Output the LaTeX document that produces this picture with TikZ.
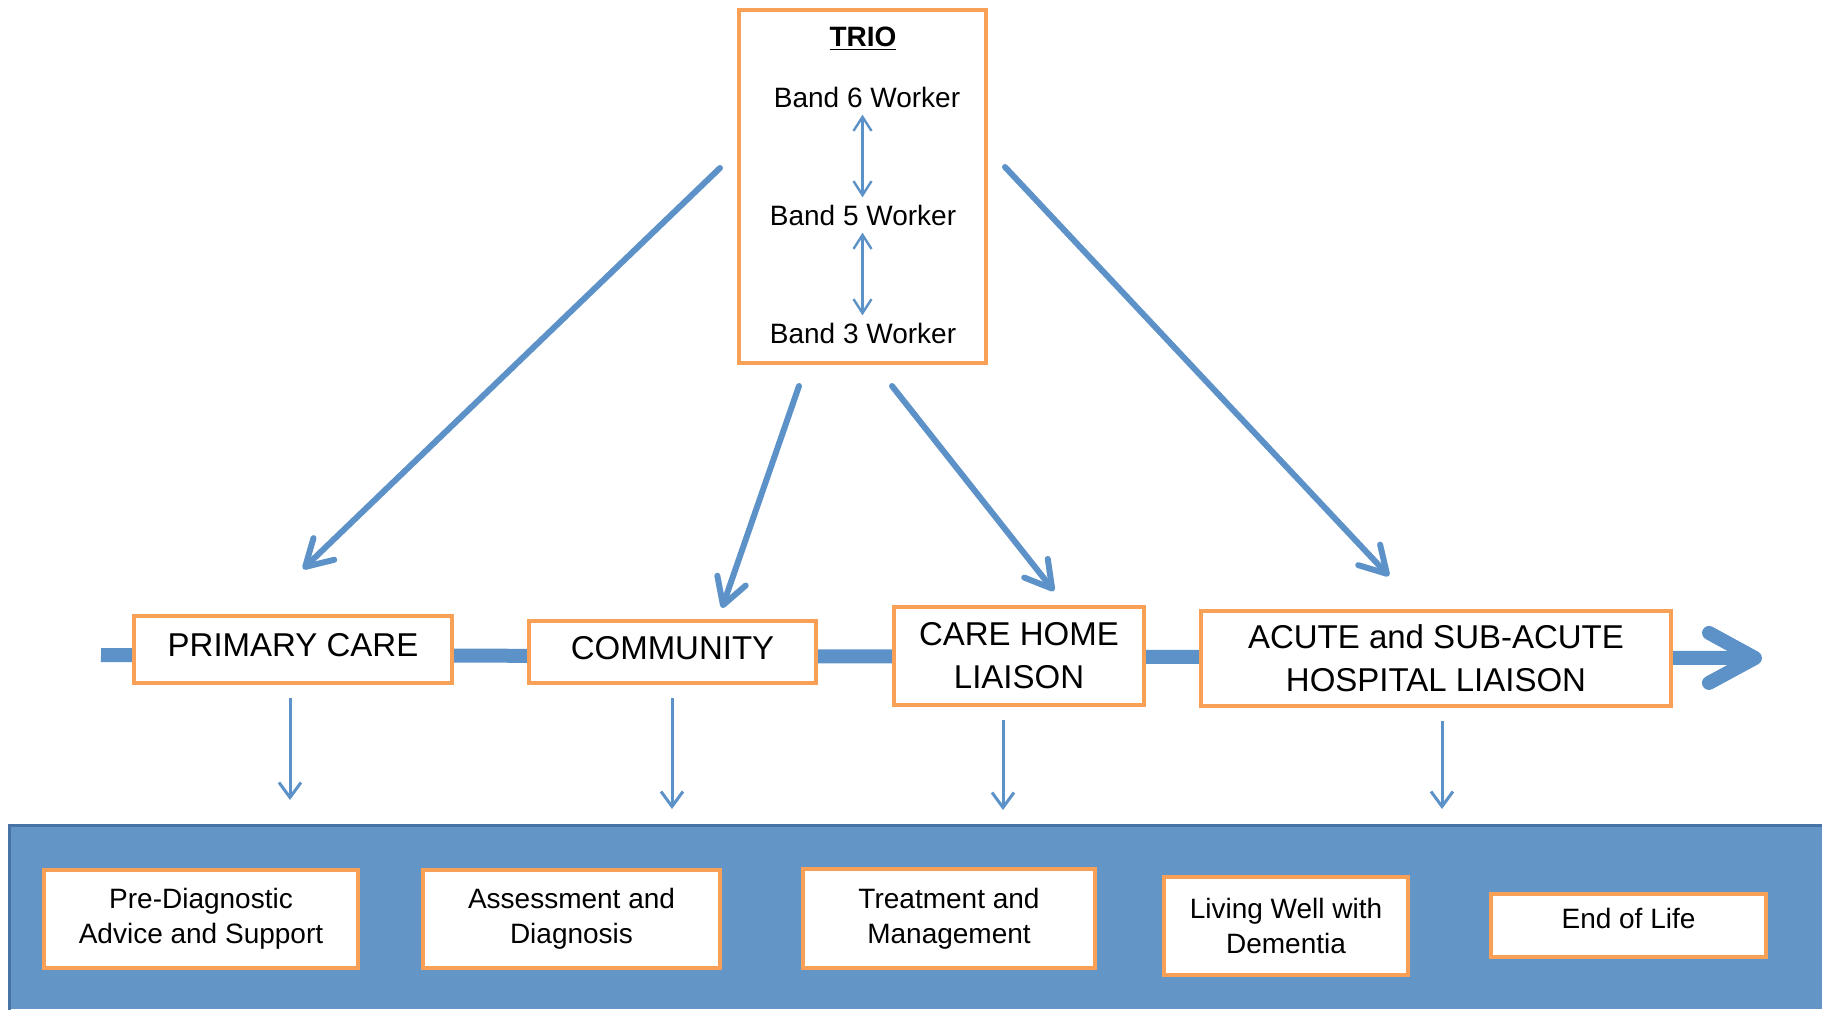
\documentclass[tikz,border=0pt]{standalone}
\usepackage{fontspec}
\setmainfont{Liberation Sans}
\usetikzlibrary{arrows.meta}
\definecolor{ablue}{RGB}{93,146,200}
\definecolor{bandblue}{RGB}{99,150,198}
\definecolor{banddark}{RGB}{72,115,165}
\definecolor{borange}{RGB}{248,160,85}
\begin{document}
\begin{tikzpicture}[x=0.5pt,y=-0.5pt,
  box/.style={draw=borange, line width=2pt, fill=white, align=center, inner sep=0pt, font=\fontsize{16.5}{21.5}\selectfont},
  sbox/.style={draw=borange, line width=2pt, fill=white, align=center, inner sep=0pt, font=\fontsize{14}{17.5}\selectfont},
  bigarr/.style={draw=ablue, line width=3pt, line cap=round, -{Straight Barb[length=13pt,width=15pt,round]}},
  downarr/.style={draw=ablue, line width=1.5pt, shorten <=6.5pt, -{Straight Barb[length=7.5pt,width=11pt]}},
  dblarr/.style={draw=ablue, line width=1.2pt, {Straight Barb[length=7pt,width=9pt]}-{Straight Barb[length=7pt,width=9pt]}},
  mainbar/.style={draw=ablue, line width=7pt, -{Straight Barb[length=23pt,width=25pt,round]}},
  lbl/.style={inner sep=3.5pt, font=\fontsize{14}{17}\selectfont}
]
\useasboundingbox (0,0) rectangle (1822,1009);

% bottom band
\node[fill=bandblue, inner sep=0pt, minimum width=906.5pt, minimum height=92pt, anchor=north west] (band) at (9,825) {};
\draw[banddark, line width=1.5pt] (band.south west) -- (band.north west) -- (band.north east);

% main timeline bar
\coordinate (bs) at (101,655);
\coordinate (be) at (1762,658);
\draw[mainbar] (bs) -- (be);

% TRIO box
\node[draw=borange, line width=2pt, minimum width=123.5pt, minimum height=176.5pt, inner sep=0pt] (trio) at (862.5,186.5) {};
\node[inner sep=0pt, font=\fontsize{14}{17}\selectfont\bfseries] (title) at (863,39) {\underline{TRIO}};
\node[lbl] (b6) at (867,97) {Band 6 Worker};
\node[lbl] (b5) at (863,215) {Band 5 Worker};
\node[lbl] (b3) at (863,333) {Band 3 Worker};
\draw[dblarr] (b6.south -| trio.center) -- (b5.north -| trio.center);
\draw[dblarr] (b5.south -| trio.center) -- (b3.north -| trio.center);

% service boxes
\node[box, minimum width=159pt, minimum height=33.5pt, text depth=4.5pt] (pc) at (293,649.5) {PRIMARY CARE};
\node[box, minimum width=143.5pt, minimum height=31pt, text depth=4pt] (com) at (672.5,652) {COMMUNITY};
\node[box, minimum width=125pt, minimum height=49pt] (chl) at (1019,656) {CARE HOME\\LIAISON};
\node[box, minimum width=235pt, minimum height=47.5pt] (acu) at (1436,658.5) {ACUTE and SUB-ACUTE\\HOSPITAL LIAISON};

% big arrows from TRIO
\coordinate (a1s) at (720,168);  \coordinate (a1e) at (303,569);
\coordinate (a2s) at (799,386);  \coordinate (a2e) at (722,608);
\coordinate (a3s) at (892,386);  \coordinate (a3e) at (1054,591);
\coordinate (a4s) at (1005,167); \coordinate (a4e) at (1389,576);
\draw[bigarr] (a1s) -- (a1e);
\draw[bigarr] (a2s) -- (a2e);
\draw[bigarr] (a3s) -- (a3e);
\draw[bigarr] (a4s) -- (a4e);

% down arrows
\coordinate (d1e) at (290,800);
\coordinate (d2e) at (672,809);
\coordinate (d3e) at (1003,810);
\coordinate (d4e) at (1442,809);
\draw[downarr] (pc.south -| d1e) -- (d1e);
\draw[downarr] (com.south -| d2e) -- (d2e);
\draw[downarr] (chl.south -| d3e) -- (d3e);
\draw[downarr] (acu.south -| d4e) -- (d4e);

% stage boxes
\node[sbox, minimum width=157pt, minimum height=49pt] (pre) at (201,919) {Pre-Diagnostic\\Advice and Support};
\node[sbox, minimum width=148.5pt, minimum height=49pt] (ass) at (571.5,919) {Assessment and\\Diagnosis};
\node[sbox, minimum width=146pt, minimum height=49.5pt] (tre) at (949,918.5) {Treatment and\\Management};
\node[sbox, minimum width=122pt, minimum height=49pt] (liv) at (1286,926) {Living Well with\\Dementia};
\node[sbox, minimum width=137.5pt, minimum height=31.5pt, text depth=7.5pt] (eol) at (1628.5,925.5) {End of Life};
\end{tikzpicture}
\end{document}
